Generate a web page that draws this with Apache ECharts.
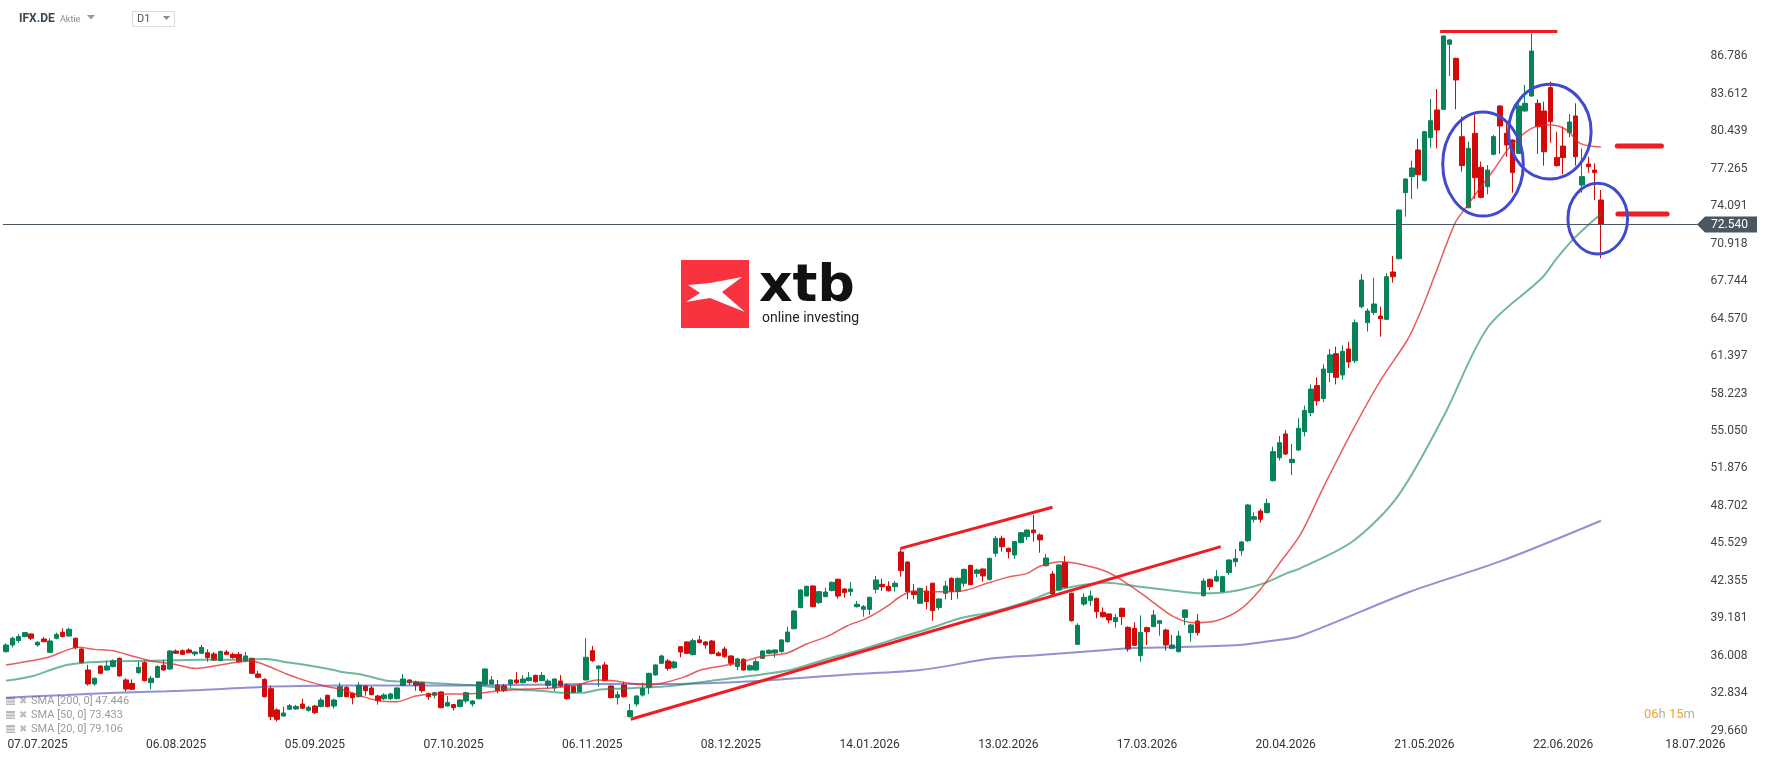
<!DOCTYPE html>
<html>
<head>
<meta charset="utf-8">
<title>IFX.DE D1</title>
<script src="https://cdn.jsdelivr.net/npm/echarts@6/dist/echarts.min.js"></script>
<style>
html, body { margin: 0; padding: 0; background: #fff; }
#main { width: 1768px; height: 761px; }
</style>
</head>
<body>
<div id="main"></div>
<script>
// daily candles, one per trading day: [open, close, low, high]
var candles = [
  [36.36, 36.92, 36.27, 37.06], [36.92, 37.49, 36.72, 37.63], [37.29, 37.63, 37.12, 37.85], [37.63, 37.97, 37.57, 38.02],
  [37.85, 37.49, 37.35, 37.91], [36.92, 37.15, 36.78, 37.26], [37.43, 37.20, 37.15, 37.57], [36.30, 37.26, 36.27, 37.49],
  [37.49, 37.82, 37.40, 37.97], [37.99, 37.63, 37.57, 38.33], [37.68, 38.25, 37.63, 38.39], [37.49, 36.70, 36.55, 37.54],
  [36.58, 35.42, 35.37, 36.64], [34.80, 33.62, 33.48, 35.23], [33.62, 34.10, 33.48, 34.18], [35.14, 34.52, 34.47, 35.20],
  [34.80, 35.14, 34.75, 35.59], [35.09, 35.59, 35.03, 35.71], [35.79, 34.30, 34.24, 35.85], [33.96, 33.19, 32.97, 34.10],
  [33.67, 33.17, 33.11, 34.01], [34.58, 35.03, 34.47, 35.51], [35.42, 33.90, 33.82, 35.59], [33.73, 34.10, 33.17, 34.30],
  [34.18, 35.09, 34.10, 35.20], [35.20, 34.80, 34.75, 35.65], [34.89, 36.41, 34.80, 36.50], [36.41, 36.22, 36.16, 36.55],
  [36.44, 36.13, 36.07, 36.55], [36.50, 36.27, 36.22, 36.64], [36.16, 36.33, 35.99, 36.38], [36.22, 36.72, 36.16, 36.92],
  [36.27, 35.85, 35.51, 36.55], [36.16, 35.65, 35.57, 36.33], [35.59, 36.38, 35.57, 36.44], [36.33, 36.13, 36.07, 36.50],
  [36.13, 35.85, 35.76, 36.27], [36.13, 35.51, 35.42, 36.33], [35.59, 35.99, 35.54, 36.33], [35.79, 34.52, 34.47, 35.85],
  [34.47, 34.18, 34.10, 34.72], [34.01, 32.54, 32.49, 34.10], [33.22, 30.85, 30.57, 33.50], [31.42, 30.62, 30.43, 31.56],
  [30.91, 31.16, 30.85, 31.70], [31.47, 31.78, 31.42, 31.92], [31.50, 31.72, 31.42, 31.84], [31.92, 31.56, 31.47, 32.35],
  [31.39, 31.64, 31.27, 31.78], [31.75, 31.19, 31.08, 31.84], [31.70, 32.26, 31.64, 32.46], [32.66, 31.70, 31.64, 32.71],
  [31.75, 32.26, 31.53, 32.37], [32.54, 33.39, 32.49, 33.73], [33.33, 32.54, 32.49, 33.45], [32.83, 32.46, 31.89, 32.88],
  [32.54, 33.50, 32.49, 33.79], [33.45, 33.05, 32.63, 33.53], [33.28, 32.71, 32.66, 33.45], [32.60, 32.20, 31.87, 32.71],
  [32.37, 32.69, 32.26, 32.83], [32.37, 32.77, 32.26, 32.88], [32.37, 33.28, 32.32, 33.33], [33.50, 34.04, 33.45, 34.46],
  [33.96, 33.73, 33.53, 34.01], [33.79, 33.50, 33.05, 33.90], [33.73, 33.05, 32.88, 33.81], [32.80, 32.54, 32.26, 32.91],
  [32.66, 32.88, 32.40, 32.97], [32.94, 31.61, 31.56, 32.99], [31.75, 32.04, 31.70, 32.60], [31.87, 31.61, 31.36, 31.92],
  [31.70, 32.26, 31.64, 32.32], [32.18, 32.88, 31.98, 32.97], [31.92, 32.18, 31.70, 32.26], [32.37, 33.79, 32.32, 33.84],
  [33.59, 34.89, 33.53, 34.94], [33.62, 33.96, 33.56, 34.29], [33.53, 33.05, 32.83, 33.96], [33.45, 33.05, 32.94, 33.62],
  [33.62, 33.96, 33.31, 34.01], [33.96, 33.73, 33.62, 34.63], [33.73, 34.04, 33.67, 34.38], [33.90, 34.15, 33.84, 34.63],
  [34.35, 33.81, 33.73, 34.41], [33.90, 34.35, 33.84, 34.63], [33.50, 33.87, 33.25, 34.04], [33.28, 34.04, 33.02, 34.10],
  [33.87, 33.45, 33.33, 34.38], [33.53, 32.37, 32.26, 33.67], [33.39, 32.91, 32.83, 33.45], [32.97, 33.53, 32.88, 33.67],
  [33.96, 35.88, 33.90, 37.51], [36.44, 35.59, 35.48, 36.84], [34.92, 35.14, 33.39, 35.20], [35.23, 33.90, 33.84, 35.48],
  [33.45, 32.46, 32.40, 33.50], [32.46, 32.71, 31.87, 33.02], [33.53, 32.54, 32.46, 33.81], [30.85, 31.36, 30.79, 31.92],
  [31.92, 32.60, 31.70, 32.68], [32.68, 33.25, 32.54, 33.73], [33.33, 34.52, 32.77, 34.58], [34.38, 35.23, 34.32, 35.28],
  [35.37, 35.99, 35.31, 36.10], [35.57, 34.94, 34.75, 35.73], [35.00, 35.48, 34.89, 35.59], [36.78, 36.33, 35.88, 36.84],
  [37.18, 36.22, 36.13, 37.23], [36.10, 37.29, 36.05, 37.46], [37.35, 37.12, 37.06, 37.71], [37.18, 36.92, 36.61, 37.26],
  [37.26, 36.19, 36.13, 37.35], [36.24, 36.02, 35.96, 36.38], [36.58, 35.93, 35.85, 36.78], [35.99, 35.37, 35.14, 36.05],
  [35.09, 35.74, 34.80, 35.85], [35.71, 34.80, 34.75, 35.79], [34.80, 35.17, 34.75, 35.28], [34.80, 35.51, 34.75, 35.74],
  [35.79, 36.41, 35.74, 36.47], [36.22, 36.47, 36.16, 36.55], [36.24, 36.50, 35.85, 36.55], [36.36, 37.35, 36.27, 37.40],
  [37.20, 38.02, 37.12, 38.47], [38.30, 39.80, 38.25, 39.89], [40.09, 41.58, 40.03, 41.64], [41.07, 41.89, 41.02, 41.95],
  [41.92, 40.17, 40.11, 41.98], [40.51, 41.44, 40.40, 41.50], [41.02, 41.41, 40.96, 41.78], [41.53, 42.23, 41.47, 42.29],
  [42.49, 41.07, 40.85, 42.54], [41.67, 41.36, 40.93, 41.72], [41.44, 41.67, 41.07, 42.26], [40.17, 40.37, 40.09, 40.65],
  [39.94, 40.17, 39.32, 40.31], [39.94, 40.96, 39.46, 41.02], [41.64, 42.43, 41.30, 42.77], [42.06, 41.86, 41.50, 42.54],
  [41.89, 41.52, 41.44, 42.32], [41.86, 42.15, 41.44, 42.34], [44.80, 43.22, 42.71, 45.11], [43.95, 41.44, 40.79, 44.01],
  [41.47, 41.19, 40.79, 42.09], [40.45, 41.72, 40.40, 41.78], [41.50, 40.59, 39.94, 41.95], [42.15, 39.83, 38.98, 42.20],
  [40.09, 40.82, 39.89, 40.87], [41.30, 41.92, 40.79, 42.37], [42.57, 41.44, 40.73, 42.65], [41.44, 42.57, 40.82, 42.65],
  [42.15, 43.33, 41.86, 43.39], [43.67, 42.03, 41.98, 43.72], [42.99, 43.28, 42.65, 43.39], [43.36, 42.77, 42.29, 43.42],
  [42.48, 44.26, 42.37, 44.32], [44.69, 45.96, 44.40, 46.16], [45.96, 45.25, 44.83, 46.18], [45.11, 44.83, 44.26, 45.17],
  [44.55, 45.68, 44.21, 45.73], [45.59, 46.44, 45.54, 46.50], [46.10, 46.66, 45.82, 46.72], [46.66, 46.44, 45.68, 47.94],
  [46.24, 45.82, 44.74, 46.38], [43.64, 44.29, 43.56, 44.63], [42.94, 41.24, 41.10, 43.19], [41.58, 43.70, 41.52, 43.75],
  [43.90, 41.81, 41.72, 44.46], [41.30, 38.98, 38.90, 41.35], [36.98, 38.59, 36.92, 38.76], [40.39, 40.96, 40.23, 41.30],
  [40.68, 41.07, 40.23, 41.52], [40.87, 39.75, 39.18, 40.93], [39.69, 39.32, 39.26, 40.11], [39.55, 39.04, 38.76, 39.60],
  [38.90, 39.26, 38.39, 39.55], [40.03, 39.32, 38.62, 40.09], [38.42, 36.58, 36.36, 38.50], [38.33, 36.89, 36.84, 38.84],
  [36.02, 37.99, 35.51, 39.43], [38.39, 38.05, 36.92, 38.48], [38.48, 39.46, 38.42, 39.89], [38.76, 38.98, 37.71, 39.04],
  [38.19, 36.92, 36.44, 38.30], [36.64, 36.92, 36.55, 37.77], [36.36, 37.68, 36.27, 38.11], [39.26, 39.89, 38.62, 39.94],
  [37.96, 38.62, 37.20, 38.70], [38.95, 37.96, 37.71, 39.55], [41.10, 42.34, 41.02, 42.57], [42.48, 41.86, 41.58, 42.57],
  [42.34, 42.71, 42.26, 43.27], [41.44, 42.71, 41.38, 42.77], [43.05, 44.12, 42.85, 44.18], [43.98, 44.24, 43.56, 45.05],
  [44.91, 45.65, 44.49, 45.70], [45.76, 48.78, 45.65, 48.87], [47.57, 47.79, 47.29, 48.16], [48.27, 47.57, 47.29, 48.47],
  [48.13, 48.92, 48.07, 49.32], [50.84, 53.30, 50.78, 53.72], [52.79, 54.06, 52.54, 54.63], [54.80, 53.10, 53.02, 55.14],
  [52.37, 52.65, 51.32, 53.95], [53.44, 55.28, 53.38, 56.12], [55.00, 56.80, 54.60, 57.20], [56.60, 58.60, 56.30, 59.00],
  [58.90, 57.60, 57.20, 59.60], [57.80, 60.30, 57.50, 60.70], [60.00, 61.50, 59.20, 62.00], [61.60, 59.60, 59.00, 62.20],
  [59.80, 61.80, 59.40, 62.30], [62.00, 60.90, 60.40, 62.60], [61.00, 64.23, 60.80, 64.50], [65.58, 67.84, 65.44, 68.35],
  [64.23, 65.22, 63.47, 65.44], [65.08, 65.81, 64.88, 68.04], [64.79, 64.57, 63.04, 65.58], [64.51, 68.12, 64.45, 68.41],
  [68.52, 68.12, 67.62, 69.88], [69.65, 73.77, 69.59, 73.83], [75.24, 76.40, 73.21, 76.46], [76.60, 77.33, 74.70, 77.95],
  [78.86, 76.77, 75.58, 79.82], [76.26, 80.41, 76.20, 80.47], [79.90, 81.34, 79.05, 83.18], [82.25, 80.55, 78.99, 84.02],
  [82.30, 88.51, 82.25, 88.57], [87.81, 88.18, 85.13, 88.26], [86.62, 84.79, 82.30, 86.68], [79.98, 77.53, 77.02, 81.68],
  [73.97, 79.00, 73.91, 79.56], [80.27, 76.51, 74.71, 81.82], [77.39, 74.85, 74.76, 77.87], [75.75, 77.16, 75.10, 77.59],
  [78.49, 79.99, 78.40, 80.13], [82.58, 80.89, 78.52, 82.67], [80.27, 79.28, 78.29, 81.11], [79.70, 76.94, 75.24, 79.76],
  [78.57, 82.58, 78.52, 83.09], [82.16, 82.81, 82.10, 84.37], [83.43, 87.24, 83.37, 88.74], [82.81, 80.83, 78.52, 83.15],
  [82.16, 78.71, 77.53, 82.95], [84.14, 81.26, 79.48, 84.64], [78.23, 77.53, 77.44, 80.41], [79.19, 78.21, 76.79, 80.83],
  [80.32, 81.23, 79.93, 81.91], [81.74, 78.29, 77.53, 82.81], [75.89, 76.60, 75.24, 79.00], [77.67, 77.44, 76.94, 78.29],
  [77.16, 76.94, 74.62, 77.73], [74.62, 72.54, 69.68, 75.47]
];

// moving averages: [bar index, value]
var sma20 = [
  [0, 35.23], [4, 35.59], [7, 35.93], [10, 36.55], [11.5, 36.72], [14, 36.55], [17, 36.44], [20, 35.99], [23, 35.57],
  [26.5, 35.31], [30, 34.94], [33, 35.14], [36, 35.42], [39, 35.57], [41.5, 35.14], [44.5, 34.46], [47.5, 33.90],
  [51, 33.39], [53, 33.20], [56.7, 32.54], [59.3, 32.18], [62, 32.12], [65, 32.60], [68.3, 32.77], [72.6, 32.77],
  [75.2, 32.83], [77.8, 33.02], [81, 33.16], [84.2, 33.22], [87.4, 33.33], [90.6, 33.53], [93.8, 33.96], [96.4, 33.90],
  [99, 33.67], [101.7, 33.53], [104.4, 33.73], [107.5, 34.20], [110.6, 34.86], [116, 35.37], [119.6, 35.93],
  [123.8, 36.22], [127, 37.01], [130.2, 37.63], [133.4, 38.53], [136.5, 39.18], [139.7, 40.17], [142, 41.07],
  [144, 41.50], [146, 41.44], [149.3, 41.44], [152.4, 41.58], [155.6, 42.15], [158.8, 42.65], [162, 42.99],
  [164.1, 43.61], [167.5, 43.98], [171, 43.70], [174.6, 43.13], [177.8, 42.15], [181.5, 40.73], [185.2, 39.32],
  [188.3, 38.81], [192, 38.98], [195.7, 39.89], [198.9, 41.58], [202, 43.84], [205.3, 46.24], [209, 50.30],
  [213.5, 55.00], [218, 59.30], [222.3, 62.76], [224.3, 65.02], [226.7, 68.30], [229.9, 72.70], [231.7, 74.05],
  [233.5, 75.40], [235.9, 77.10], [238.6, 79.14], [242, 80.69], [244.9, 80.97], [247.6, 80.55], [249.7, 79.42],
  [253, 79.11]
];
var sma50 = [
  [0, 33.90], [4.3, 34.30], [7.5, 34.89], [9.6, 35.23], [12.3, 35.42], [17.5, 35.54], [22.8, 35.57], [30.8, 35.68],
  [36.1, 35.68], [41.4, 35.74], [44, 35.51], [46.6, 35.31], [52, 34.80], [53, 34.66], [56.7, 34.38], [60.4, 33.90],
  [64.6, 33.81], [68.3, 33.67], [73.6, 33.53], [76.8, 33.39], [81, 33.16], [85.2, 33.02], [88.4, 32.88], [91.6, 32.88],
  [93.8, 33.11], [96.9, 33.22], [101.2, 33.31], [105.4, 33.45], [112, 33.90], [118, 34.30], [124.4, 34.80],
  [130.2, 35.74], [135.5, 36.50], [140.8, 37.40], [146.1, 38.25], [151.4, 39.18], [156.6, 39.74], [161.9, 40.59],
  [167.2, 41.64], [174.6, 42.20], [179.9, 41.86], [185.2, 41.52], [189.4, 41.30], [192.6, 41.35], [195.7, 41.58],
  [200, 42.23], [203.1, 42.99], [205.3, 43.41], [213.7, 45.73], [220.8, 49.54], [228, 56.24], [235.1, 63.86],
  [243.6, 67.99], [246, 69.68], [248.6, 71.29], [250.7, 72.36], [253, 73.43]
];
var sma200 = [
  [0, 32.46], [9.6, 32.69], [17.5, 32.88], [25.5, 33.00], [30.8, 33.11], [36.1, 33.25], [41.4, 33.39], [46.6, 33.45],
  [53, 33.48], [65, 33.48], [78.5, 33.53], [89, 33.59], [99.6, 33.62], [105.4, 33.62], [120, 33.90], [133, 34.40],
  [145, 34.80], [156.6, 35.79], [164, 36.07], [174.6, 36.50], [177.8, 36.64], [183, 36.70], [195.7, 36.92],
  [201, 37.29], [205.3, 37.68], [222.6, 41.41], [237, 44.00], [253, 47.45]
];

var lastPrice = 72.540;
var smaLegend = [['SMA [200, 0]', '47.446'], ['SMA [50, 0]', '73.433'], ['SMA [20, 0]', '79.106']];

var yTickLabels = ['29.660', '32.834', '36.008', '39.181', '42.355', '45.529', '48.702', '51.876', '55.050', '58.223',
  '61.397', '64.570', '67.744', '70.918', '74.091', '77.265', '80.439', '83.612', '86.786'];
var xTickLabels = ['07.07.2025', '06.08.2025', '05.09.2025', '07.10.2025', '06.11.2025', '08.12.2025', '14.01.2026',
  '13.02.2026', '17.03.2026', '20.04.2026', '21.05.2026', '22.06.2026', '18.07.2026'];
var xTickIndex = [5, 27, 49, 71, 93, 115, 137, 159, 181, 203, 225, 247, 268];

// hand-drawn annotations, in [bar index, price]
var trendLines = [
  [[141.9, 45.11], [166.0, 48.59]],
  [[99.1, 30.63], [192.7, 45.25]],
  [[227.5, 88.89], [246.1, 88.89]]
];
var levelLines = [
  [[255.6, 79.19], [262.6, 79.19]],
  [[255.7, 73.44], [263.5, 73.44]]
];
// centre [bar, price], half-width in bars, half-height in price
var rings = [
  [234.3, 77.67, 6.39, 4.41],
  [244.9, 80.41, 6.55, 4.01],
  [252.5, 73.04, 4.73, 2.99]
];

var slotCount = 269;
var upColor = '#07835a';
var downColor = '#d20a0a';

var categories = [];
for (var i = 0; i < slotCount; i++) categories.push(String(i));

var tickMap = {};
xTickIndex.forEach(function (idx, k) { tickMap[idx] = xTickLabels[k]; });

var chart = echarts.init(document.getElementById('main'));

var series = [{
  type: 'candlestick',
  data: candles,
  barWidth: 5,
  itemStyle: {
    color: upColor, color0: downColor,
    borderColor: upColor, borderColor0: downColor, borderWidth: 1
  },
  markLine: {
    silent: true,
    symbol: 'none',
    label: { show: false },
    lineStyle: { color: '#4a5761', width: 1.2, type: 'solid' },
    data: [{ yAxis: lastPrice }]
  },
  z: 2
}, {
  type: 'line', xAxisIndex: 1, data: sma200, smooth: 0.3, showSymbol: false,
  lineStyle: { color: 'rgba(70, 72, 178, 0.6)', width: 2 }, z: 3
}, {
  type: 'line', xAxisIndex: 1, data: sma50, smooth: 0.3, showSymbol: false,
  lineStyle: { color: 'rgba(18, 135, 92, 0.6)', width: 2 }, z: 3
}, {
  type: 'line', xAxisIndex: 1, data: sma20, smooth: 0.3, showSymbol: false,
  lineStyle: { color: 'rgba(225, 38, 38, 0.75)', width: 1.5 }, z: 3
}];

trendLines.forEach(function (seg) {
  series.push({
    type: 'line', xAxisIndex: 1, data: seg, showSymbol: false, silent: true,
    lineStyle: { color: '#ef1c24', width: 3 }, z: 5
  });
});
levelLines.forEach(function (seg) {
  series.push({
    type: 'line', xAxisIndex: 1, data: seg, showSymbol: false, silent: true,
    lineStyle: { color: '#ef1c24', width: 5, cap: 'round' }, z: 5
  });
});

var option = {
  animation: false,
  backgroundColor: '#fff',
  grid: { left: 2.85, right: 69.4, top: 0, bottom: 30.3, containLabel: false },
  xAxis: [{
    type: 'category',
    data: categories,
    boundaryGap: true,
    axisLine: { show: false },
    axisTick: { show: false },
    splitLine: { show: false },
    axisLabel: {
      interval: function (idx) { return tickMap[idx] !== undefined; },
      formatter: function (val, idx) { return tickMap[idx] || ''; },
      color: '#333', fontSize: 12, fontFamily: 'Roboto', margin: 8
    }
  }, {
    type: 'value', min: -0.5, max: slotCount - 0.5, show: false
  }],
  yAxis: {
    type: 'value',
    position: 'right',
    min: 29.660,
    max: 91.564,
    interval: (86.786 - 29.660) / 18,
    axisLine: { show: false },
    axisTick: { show: false },
    splitLine: { show: false },
    axisLabel: {
      color: '#444', fontSize: 12, fontFamily: 'Roboto', margin: 12,
      formatter: function (v) {
        for (var k = 0; k < yTickLabels.length; k++) {
          if (Math.abs(parseFloat(yTickLabels[k]) - v) < 0.01) return yTickLabels[k];
        }
        return '';
      }
    }
  },
  series: series
};

chart.setOption(option);

// overlays placed through the chart's own scales
function px(x, y) { return chart.convertToPixel({ seriesIndex: 1 }, [x, y]); }

var graphics = [];
rings.forEach(function (r) {
  var c = px(r[0], r[1]);
  var e = px(r[0] + r[2], r[1] + r[3]);
  graphics.push({
    type: 'ellipse', z: 100, silent: true,
    shape: { cx: c[0], cy: c[1], rx: Math.abs(e[0] - c[0]), ry: Math.abs(e[1] - c[1]) },
    style: { fill: 'none', stroke: '#4149cf', lineWidth: 3 }
  });
});

// price tag
var py = px(0, lastPrice)[1];
graphics.push({
  type: 'polygon', z: 100,
  shape: { points: [[1697, py], [1705, py - 8], [1757, py - 8], [1757, py + 8], [1705, py + 8]] },
  style: { fill: '#4a5761' }
});
graphics.push({
  type: 'text', z: 101, x: 1711, y: py,
  style: { text: lastPrice.toFixed(3), fill: '#fff', fontSize: 12, fontFamily: 'Roboto', verticalAlign: 'middle' }
});

// header
graphics.push({ type: 'text', x: 19, y: 19, style: { text: 'IFX.DE', fill: '#3b4750', fontSize: 12, fontWeight: 'bold', fontFamily: 'Roboto', verticalAlign: 'middle' } });
graphics.push({ type: 'text', x: 60, y: 20, style: { text: 'Aktie', fill: '#8a8a8a', fontSize: 9, fontFamily: 'Roboto', verticalAlign: 'middle' } });
graphics.push({ type: 'polygon', shape: { points: [[87, 15], [95, 15], [91, 19.5]] }, style: { fill: '#9a9a9a' } });
graphics.push({ type: 'rect', shape: { x: 132.5, y: 11.5, width: 42, height: 15 }, style: { fill: '#fff', stroke: '#dcdcdc', lineWidth: 1 } });
graphics.push({ type: 'text', x: 137, y: 19.5, style: { text: 'D1', fill: '#555', fontSize: 11, fontFamily: 'Roboto', verticalAlign: 'middle' } });
graphics.push({ type: 'polygon', shape: { points: [[163, 16], [170, 16], [166.5, 20]] }, style: { fill: '#8a8a8a' } });

// logo
graphics.push({ type: 'rect', shape: { x: 681, y: 260, width: 68, height: 68 }, style: { fill: '#f8323f' } });
graphics.push({
  type: 'polygon',
  shape: { points: [[688, 285], [710, 283], [742, 277], [722, 292], [745, 312], [710, 298], [686, 302], [700, 293]] },
  style: { fill: '#fff' }
});
graphics.push({ type: 'text', x: 759, y: 287, style: { text: 'xtb', fill: '#111', fontSize: 52, fontWeight: 'bold', fontFamily: 'DejaVu Sans', verticalAlign: 'middle' } });
graphics.push({ type: 'text', x: 762, y: 318, style: { text: 'online investing', fill: '#222', fontSize: 14, fontFamily: 'Roboto', verticalAlign: 'middle' } });

// SMA legend, bottom left
smaLegend.forEach(function (row, k) {
  var ly = 701 + k * 14;
  graphics.push({ type: 'rect', shape: { x: 6, y: ly - 4, width: 9, height: 8 }, style: { fill: '#b8b8b8' } });
  graphics.push({ type: 'rect', shape: { x: 6, y: ly - 1.5, width: 9, height: 1 }, style: { fill: '#fff' } });
  graphics.push({ type: 'rect', shape: { x: 6, y: ly + 1.5, width: 9, height: 1 }, style: { fill: '#fff' } });
  graphics.push({ type: 'text', x: 19, y: ly, style: { text: '✖', fill: '#bdbdbd', fontSize: 10, fontFamily: 'DejaVu Sans', verticalAlign: 'middle' } });
  graphics.push({ type: 'text', x: 31, y: ly, style: { text: row[0] + ' ' + row[1], fill: '#9b9b9b', fontSize: 11, fontFamily: 'Roboto', verticalAlign: 'middle' } });
});

// session timer
graphics.push({
  type: 'text', x: 1644, y: 715,
  style: {
    text: '{o|06}{g|h }{o|15}{g|m}',
    verticalAlign: 'middle',
    rich: {
      o: { fill: '#f5a31a', fontSize: 13, fontFamily: 'Roboto' },
      g: { fill: '#b0b0b0', fontSize: 13, fontFamily: 'Roboto' }
    }
  }
});

chart.setOption({ graphic: graphics });
</script>
</body>
</html>
